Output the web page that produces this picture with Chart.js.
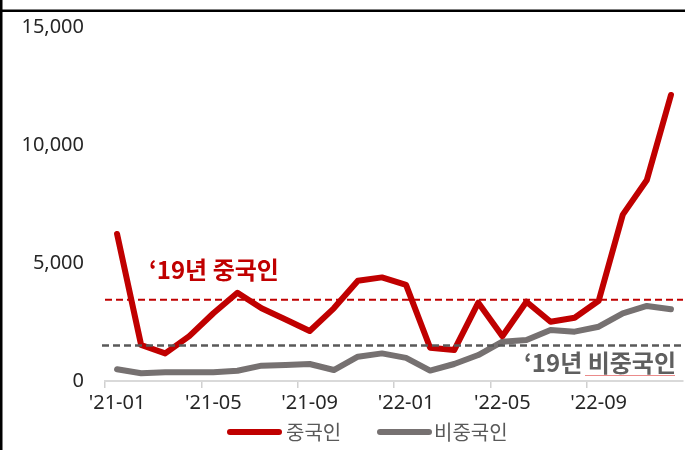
<!DOCTYPE html>
<html>
<head>
<meta charset="utf-8">
<script src="https://cdn.jsdelivr.net/npm/chart.js@4.4.0/dist/chart.umd.min.js"></script>
<style>
  html, body { margin: 0; padding: 0; background: #fff; }
  canvas { display: block; }
</style>
</head>
<body>
<canvas id="c" width="685" height="450"></canvas>
<script>
const categories = ["'21-01","'21-02","'21-03","'21-04","'21-05","'21-06","'21-07","'21-08","'21-09","'21-10","'21-11","'21-12",
                    "'22-01","'22-02","'22-03","'22-04","'22-05","'22-06","'22-07","'22-08","'22-09","'22-10","'22-11","'22-12"];
const tickLabels = ["'21-01","'21-05","'21-09","'22-01","'22-05","'22-09"];
const yTicks = [0, 5000, 10000, 15000];
const chinese    = [6230,1525,1170,1900,2870,3740,3080,2610,2120,3080,4250,4390,4070,1410,1310,3320,1900,3360,2510,2680,3400,7050,8520,12120];
const nonChinese = [495,325,370,370,370,435,650,680,720,465,1030,1170,980,440,720,1100,1665,1735,2160,2090,2300,2870,3180,3040];
const seriesNames = ['중국인', '비중국인'];
const baseline2019 = [3440, 1500];
const baselineLabels = ['‘19년 중국인', '‘19년 비중국인'];

const RED = '#c00000';
const GRAY = '#767171';
const FONT = "'Noto Sans', 'Noto Sans CJK KR', sans-serif";

const extras = {
  id: 'extras',
  afterDatasetsDraw(chart) {
    const { ctx, chartArea, scales } = chart;
    const y = scales.y;
    const cols = [RED, '#595959'];
    baseline2019.forEach((v, i) => {
      const py = y.getPixelForValue(v);
      ctx.save();
      ctx.strokeStyle = cols[i];
      ctx.lineWidth = i === 0 ? 2 : 2.5;
      ctx.setLineDash([7, 4]);
      ctx.beginPath();
      ctx.moveTo(chartArea.left - (i === 0 ? 0 : 3), py);
      ctx.lineTo(chartArea.right, py);
      ctx.stroke();
      ctx.restore();
    });
    ctx.save();
    ctx.font = "bold 24px 'Noto Sans CJK KR', 'Noto Sans', sans-serif";
    ctx.textBaseline = 'middle';
    ctx.fillStyle = RED;
    ctx.textAlign = 'left';
    ctx.fillText(baselineLabels[0], 149, 270);
    ctx.fillStyle = '#5f5f5f';
    ctx.textAlign = 'right';
    ctx.fillText(baselineLabels[1], 676, 363);
    ctx.strokeStyle = 'rgba(230,110,110,0.8)';
    ctx.lineWidth = 1;
    ctx.beginPath();
    ctx.moveTo(585, 375.5);
    ctx.lineTo(675, 375.5);
    ctx.stroke();
    ctx.restore();
  },
  afterDraw(chart) {
    const { ctx } = chart;
    ctx.save();
    const items = [{x: 227, tx: 286}, {x: 377, tx: 434}];
    chart.data.datasets.forEach((ds, i) => {
      const it = items[i];
      ctx.strokeStyle = ds.borderColor;
      ctx.lineWidth = 6;
      ctx.lineCap = 'round';
      ctx.beginPath();
      ctx.moveTo(it.x + 3, 432);
      ctx.lineTo(it.x + 52, 432);
      ctx.stroke();
      ctx.fillStyle = '#595959';
      ctx.font = "20px 'Noto Sans CJK KR', sans-serif";
      ctx.textBaseline = 'middle';
      ctx.textAlign = 'left';
      ctx.fillText(ds.label, it.tx, 432);
    });
    ctx.fillStyle = '#000';
    ctx.fillRect(0, 0, 2.5, 450);
    ctx.fillRect(0, 9.5, 685, 2.5);
    ctx.restore();
  }
};

new Chart(document.getElementById('c'), {
  type: 'line',
  data: {
    labels: categories,
    datasets: [
      { label: seriesNames[0], data: chinese, borderColor: RED, backgroundColor: RED,
        borderWidth: 6, pointRadius: 0, tension: 0, borderJoinStyle: 'round', borderCapStyle: 'round' },
      { label: seriesNames[1], data: nonChinese, borderColor: GRAY, backgroundColor: GRAY,
        borderWidth: 6, pointRadius: 0, tension: 0, borderJoinStyle: 'round', borderCapStyle: 'round' }
    ]
  },
  options: {
    responsive: false,
    animation: false,
    devicePixelRatio: 1,
    layout: { padding: { left: 0, right: 2, top: 27, bottom: 35 } },
    plugins: { legend: { display: false }, tooltip: { enabled: false } },
    scales: {
      x: {
        offset: true,
        grid: {
          offset: true,
          drawOnChartArea: false,
          drawTicks: true,
          tickLength: 7,
          lineWidth: 1.5,
          color: (c) => (c.index % 4 === 0 ? '#d0d0d0' : 'rgba(0,0,0,0)')
        },
        border: { display: true, color: '#d9d9d9', width: 2 },
        ticks: {
          autoSkip: false,
          maxRotation: 0,
          padding: 3,
          color: '#262626',
          font: { family: FONT, size: 20 },
          callback: function(v, i) {
            const l = this.getLabelForValue(v);
            return tickLabels.includes(l) ? l : '';
          }
        },
        afterFit: (s) => { s.height = 34; s.paddingLeft = 0; s.paddingRight = 0; }
      },
      y: {
        min: 0, max: 15000,
        grid: { display: false, drawTicks: false },
        border: { display: false },
        afterBuildTicks: (s) => { s.ticks = yTicks.map(v => ({ value: v })); },
        ticks: {
          padding: 21,
          color: '#262626',
          font: { family: FONT, size: 20 },
          callback: (v) => v.toLocaleString('en-US')
        },
        afterFit: (s) => { s.width = 105; s.paddingTop = 0; s.paddingBottom = 0; }
      }
    }
  },
  plugins: [extras]
});
</script>
</body>
</html>
